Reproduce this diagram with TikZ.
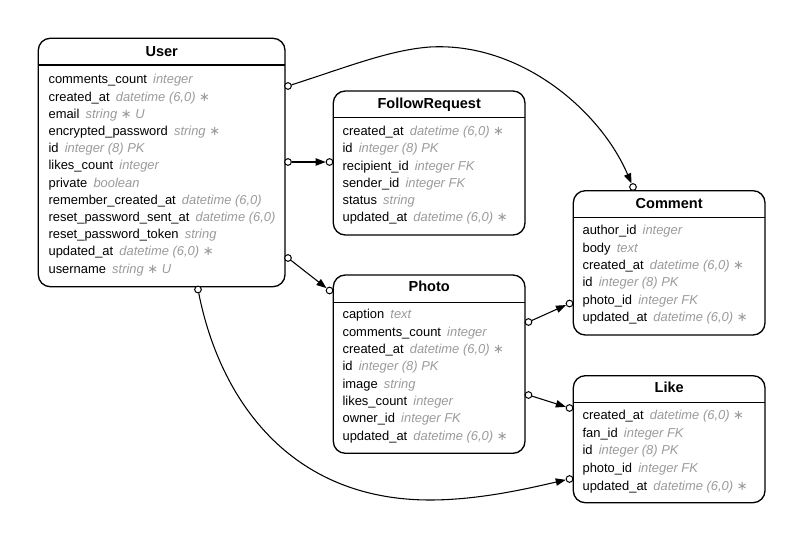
\documentclass[tikz,border=0pt]{standalone}
\usepackage{fontspec}
\setmainfont{Liberation Sans}
\newfontfamily\ersymfont{DejaVu Sans}
\usetikzlibrary{fit,arrows.meta}
\definecolor{typegray}{RGB}{155,155,155}
\newcommand\ertype[1]{\textcolor{typegray}{\itshape #1}}
\newcommand\erstar{{\upshape\ersymfont ∗}}
\begin{document}
\begin{tikzpicture}[x=0.75pt,y=-0.75pt,
  tbl/.style={draw,line width=1pt,rounded corners=9pt,inner sep=0pt,fill=white},
  hdr/.style={line width=1pt},
  ttl/.style={anchor=base,inner sep=0pt,font=\bfseries\fontsize{10.9}{12}\selectfont},
  fld/.style={anchor=base west,inner sep=0pt,font=\fontsize{9.7}{11}\selectfont},
  dot/.style={circle,draw,fill=white,inner sep=0pt,minimum size=5pt,line width=0.75pt},
  conn/.style={line width=0.8pt,-{Triangle[length=7.5pt,width=5.5pt]}}]
\useasboundingbox (0,0) rectangle (803,541);

% ---------- User ----------
\node[tbl,fit={(38.3,38.3)(285,286.7)}] (user) {};
\draw[hdr] (38.3,65) -- (285,65);
\node[ttl] (user-t) at (161.7,56.7) {User};
\foreach \n/\t [count=\i from 0] in {
  {comments\_count}/{integer},
  {created\_at}/{datetime (6,0) \erstar},
  {email}/{string \erstar\ U},
  {encrypted\_password}/{string \erstar},
  {id}/{integer (8) PK},
  {likes\_count}/{integer},
  {private}/{boolean},
  {remember\_created\_at}/{datetime (6,0)},
  {reset\_password\_sent\_at}/{datetime (6,0)},
  {reset\_password\_token}/{string},
  {updated\_at}/{datetime (6,0) \erstar},
  {username}/{string \erstar\ U}}
  \node[fld] (user-\i) at ({48.3},{84+\i*17.2}) {\n\hspace{4.6pt}\ertype{\t}};

% ---------- FollowRequest ----------
\node[tbl,fit={(333.3,91)(525,235)}] (fr) {};
\draw[hdr] (333.3,117.7) -- (525,117.7);
\node[ttl] (fr-t) at (429.2,108.3) {FollowRequest};
\foreach \n/\t [count=\i from 0] in {
  {created\_at}/{datetime (6,0) \erstar},
  {id}/{integer (8) PK},
  {recipient\_id}/{integer FK},
  {sender\_id}/{integer FK},
  {status}/{string},
  {updated\_at}/{datetime (6,0) \erstar}}
  \node[fld] (fr-\i) at ({342.3},{135.7+\i*17.2}) {\n\hspace{4.6pt}\ertype{\t}};

% ---------- Photo ----------
\node[tbl,fit={(333.3,275)(525,453.3)}] (photo) {};
\draw[hdr] (333.3,302.3) -- (525,302.3);
\node[ttl] (photo-t) at (429.2,291.7) {Photo};
\foreach \n/\t [count=\i from 0] in {
  {caption}/{text},
  {comments\_count}/{integer},
  {created\_at}/{datetime (6,0) \erstar},
  {id}/{integer (8) PK},
  {image}/{string},
  {likes\_count}/{integer},
  {owner\_id}/{integer FK},
  {updated\_at}/{datetime (6,0) \erstar}}
  \node[fld] (photo-\i) at ({342.3},{319+\i*17.29}) {\n\hspace{4.6pt}\ertype{\t}};

% ---------- Comment ----------
\node[tbl,fit={(573.3,190.7)(765,335)}] (comment) {};
\draw[hdr] (573.3,217.3) -- (765,217.3);
\node[ttl] (comment-t) at (669.2,208.3) {Comment};
\foreach \n/\t [count=\i from 0] in {
  {author\_id}/{integer},
  {body}/{text},
  {created\_at}/{datetime (6,0) \erstar},
  {id}/{integer (8) PK},
  {photo\_id}/{integer FK},
  {updated\_at}/{datetime (6,0) \erstar}}
  \node[fld] (comment-\i) at ({582.3},{235+\i*17.3}) {\n\hspace{4.6pt}\ertype{\t}};

% ---------- Like ----------
\node[tbl,fit={(573.3,375.7)(765,502.7)}] (like) {};
\draw[hdr] (573.3,402.3) -- (765,402.3);
\node[ttl] (like-t) at (669.2,392.3) {Like};
\foreach \n/\t [count=\i from 0] in {
  {created\_at}/{datetime (6,0) \erstar},
  {fan\_id}/{integer FK},
  {id}/{integer (8) PK},
  {photo\_id}/{integer FK},
  {updated\_at}/{datetime (6,0) \erstar}}
  \node[fld] (like-\i) at ({582.3},{420+\i*17.5}) {\n\hspace{4.6pt}\ertype{\t}};

% ---------- connector end circles ----------
\node[dot] (c1a) at (288,86) {};
\node[dot] (c1b) at (633,187) {};
\node[dot] (c2a) at (288,162) {};
\node[dot] (c2b) at (329.5,162) {};
\node[dot] (c3a) at (288,258) {};
\node[dot] (c3b) at (329.5,290.5) {};
\node[dot] (c4a) at (198,289.5) {};
\node[dot] (c4b) at (569.5,479) {};
\node[dot] (c5a) at (528.5,322) {};
\node[dot] (c5b) at (569.5,303.5) {};
\node[dot] (c6a) at (528.5,395) {};
\node[dot] (c6b) at (569.5,408) {};

% ---------- connectors ----------
\draw[conn] (c1a) .. controls (350,66) and (390,50) .. (430,47) .. controls (520,42) and (600,110) .. (c1b);
\draw[conn] (c2a) -- (c2b);
\draw[conn] (c3a) -- (c3b);
\draw[conn] (c4a) .. controls (220,400) and (290,500) .. (430,500) .. controls (480,500) and (530,488) .. (c4b);
\draw[conn] (c5a) -- (c5b);
\draw[conn] (c6a) -- (c6b);
\end{tikzpicture}
\end{document}
